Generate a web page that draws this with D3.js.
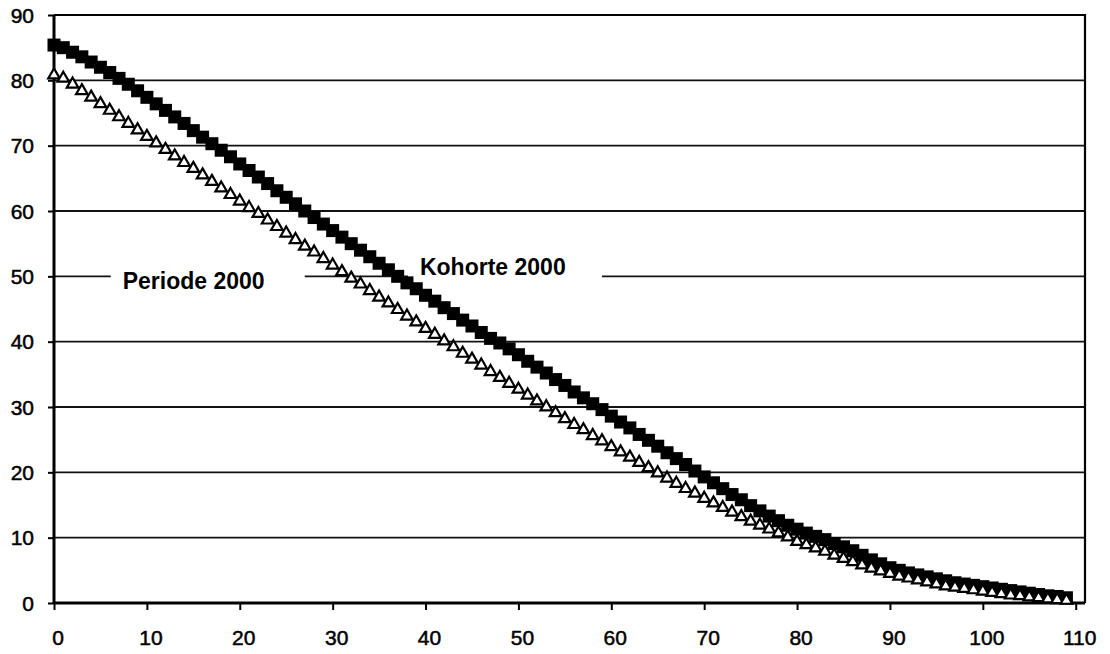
<!DOCTYPE html>
<html>
<head>
<meta charset="utf-8">
<script src="https://cdn.jsdelivr.net/npm/d3@7"></script>
<style>
	body { margin: 0; background: #fff; }
	text { font-family: "Liberation Sans", Arial, sans-serif; fill: #000; }
	.tick-label { font-size: 21px; stroke: #000; stroke-width: 0.5px; }
	.series-label { font-size: 23px; font-weight: bold; }
</style>
</head>
<body>
<div id="chartDiv"></div>
<script>
// age 0..109
var ages = d3.range(0, 110);

var kohorte2000 = [
	85.4, 85.0, 84.3, 83.6, 82.8, 82.0, 81.2, 80.3, 79.4, 78.4,
	77.4, 76.4, 75.4, 74.4, 73.4, 72.3, 71.3, 70.3, 69.3, 68.3,
	67.2, 66.2, 65.2, 64.2, 63.1, 62.1, 61.1, 60.0, 59.0, 58.0,
	57.0, 56.0, 55.0, 54.0, 53.0, 52.0, 51.0, 50.0, 49.0, 48.1,
	47.1, 46.2, 45.2, 44.3, 43.3, 42.4, 41.4, 40.5, 39.8, 38.9,
	38.0, 37.0, 36.1, 35.2, 34.2, 33.3, 32.3, 31.4, 30.5, 29.6,
	28.6, 27.7, 26.8, 25.8, 24.9, 24.0, 23.0, 22.1, 21.2, 20.2,
	19.3, 18.4, 17.5, 16.6, 15.8, 14.9, 14.1, 13.3, 12.6, 11.9,
	11.3, 10.7, 10.2, 9.7, 9.1, 8.6, 8.0, 7.3, 6.6, 6.0,
	5.4, 5.0, 4.6, 4.3, 4.0, 3.7, 3.4, 3.1, 2.9, 2.7,
	2.5, 2.3, 2.1, 1.9, 1.7, 1.5, 1.3, 1.1, 1.0, 0.8
];

var periode2000 = [
	80.8, 80.3, 79.4, 78.4, 77.4, 76.4, 75.4, 74.4, 73.4, 72.4,
	71.4, 70.4, 69.4, 68.4, 67.4, 66.5, 65.5, 64.5, 63.5, 62.5,
	61.5, 60.5, 59.6, 58.6, 57.6, 56.6, 55.6, 54.6, 53.7, 52.7,
	51.7, 50.7, 49.7, 48.8, 47.8, 46.8, 45.9, 44.9, 43.9, 43.0,
	42.0, 41.1, 40.1, 39.2, 38.2, 37.3, 36.4, 35.4, 34.5, 33.6,
	32.7, 31.8, 30.9, 30.0, 29.1, 28.2, 27.3, 26.5, 25.6, 24.8,
	23.9, 23.1, 22.3, 21.5, 20.7, 19.9, 19.1, 18.3, 17.5, 16.8,
	16.0, 15.3, 14.6, 13.9, 13.2, 12.5, 11.9, 11.3, 10.7, 10.1,
	9.4, 8.9, 8.4, 7.9, 7.3, 6.8, 6.3, 5.8, 5.3, 4.9,
	4.5, 4.1, 3.8, 3.5, 3.2, 2.9, 2.6, 2.4, 2.2, 2.0,
	1.8, 1.6, 1.4, 1.2, 1.1, 0.9, 0.8, 0.6, 0.5, 0.4
];

var xTicks = d3.range(0, 111, 10);
var yTicks = d3.range(0, 91, 10);

var seriesLabels = [
	{name: "Periode 2000", age: 7.4, value: 49.3},
	{name: "Kohorte 2000", age: 39.4, value: 51.4}
];

var width = 1110, height = 654;
var svg = d3.select("#chartDiv").append("svg")
	.attr("width", width)
	.attr("height", height);

var x = d3.scaleLinear().domain([0, 111]).range([54, 1085]);
var y = d3.scaleLinear().domain([0, 90]).range([603, 15]);

// gridlines
svg.append("g").selectAll("line")
	.data(yTicks.filter(function(d) { return d > 0 && d < 90; }))
	.enter().append("line")
	.attr("x1", x(0)).attr("x2", x(111))
	.attr("y1", function(d) { return y(d); })
	.attr("y2", function(d) { return y(d); })
	.attr("stroke", "#111")
	.attr("stroke-width", 1.8);

// plot border (top + right)
svg.append("path")
	.attr("d", "M" + x(0) + "," + y(90) + "H" + x(111) + "V" + y(0))
	.attr("fill", "none")
	.attr("stroke", "#000")
	.attr("stroke-width", 2.2);

// axes
var xAxis = d3.axisBottom(x).tickValues(xTicks).tickSize(7).tickFormat("");
var yAxis = d3.axisLeft(y).tickValues(yTicks).tickSize(6).tickFormat("");

var gx = svg.append("g").attr("transform", "translate(0," + y(0) + ")").call(xAxis);
var gy = svg.append("g").attr("transform", "translate(" + x(0) + ",0)").call(yAxis);
gx.select(".domain").attr("d", "M" + x(0) + ",0H" + x(111)).attr("stroke-width", 3);
gy.select(".domain").attr("d", "M0," + y(90) + "V" + y(0)).attr("stroke-width", 3);
gx.selectAll(".tick line").attr("stroke-width", 2);
gy.selectAll(".tick line").attr("stroke-width", 2);

svg.append("g").selectAll("text")
	.data(xTicks)
	.enter().append("text")
	.attr("class", "tick-label")
	.attr("x", function(d) { return x(d) + 4; })
	.attr("y", 645)
	.attr("text-anchor", "middle")
	.text(function(d) { return d; });

svg.append("g").selectAll("text")
	.data(yTicks)
	.enter().append("text")
	.attr("class", "tick-label")
	.attr("x", 34)
	.attr("y", function(d) { return y(d); })
	.attr("dy", "0.36em")
	.attr("text-anchor", "end")
	.text(function(d) { return d; });

// series labels with white box (covers the 50 gridline)
var lab = svg.append("g").selectAll("g")
	.data(seriesLabels)
	.enter().append("g")
	.attr("transform", function(d) { return "translate(" + x(d.age) + "," + y(d.value) + ")"; });
lab.append("rect")
	.attr("x", -12).attr("y", -20)
	.attr("width", 194).attr("height", 36)
	.attr("fill", "#fff");
lab.append("text")
	.attr("class", "series-label")
	.attr("dy", "0.36em")
	.text(function(d) { return d.name; });

// Kohorte: filled squares
var sq = 13;
svg.append("g").selectAll("rect")
	.data(ages)
	.enter().append("rect")
	.attr("x", function(d) { return x(d) - sq / 2; })
	.attr("y", function(d, i) { return y(kohorte2000[i]) - sq / 2; })
	.attr("width", sq).attr("height", sq)
	.attr("fill", "#000");

// Periode: open triangles
var tri = d3.symbol().type(d3.symbolTriangle).size(58);
svg.append("g").selectAll("path")
	.data(ages)
	.enter().append("path")
	.attr("d", tri)
	.attr("transform", function(d, i) { return "translate(" + x(d) + "," + y(periode2000[i]) + ")"; })
	.attr("fill", "#fff")
	.attr("stroke", "#000")
	.attr("stroke-width", 2.2);
</script>
</body>
</html>
